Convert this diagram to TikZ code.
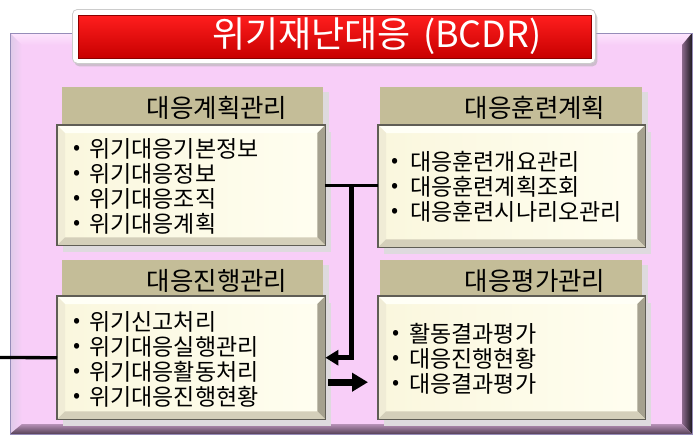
\documentclass[tikz,border=0pt]{standalone}
\usepackage{fontspec}
\setmainfont{Noto Sans CJK KR}
\usetikzlibrary{arrows.meta,calc,shadows}
\definecolor{framepink}{RGB}{248,206,248}
\definecolor{framelight}{RGB}{253,230,253}
\definecolor{frameedge}{RGB}{150,140,185}
\definecolor{framedark}{RGB}{30,25,32}
\definecolor{framemid}{RGB}{140,105,140}
\definecolor{hdrtan}{RGB}{196,189,152}
\definecolor{cream}{RGB}{250,247,222}
\definecolor{creamlight}{RGB}{255,254,240}
\definecolor{bvtopc}{RGB}{255,255,246}
\definecolor{bvleftc}{RGB}{240,236,214}
\definecolor{bvrightc}{RGB}{165,161,143}
\definecolor{bvbotc}{RGB}{212,207,186}
\definecolor{boxedge}{RGB}{95,93,85}
\definecolor{shadowgrey}{RGB}{222,218,222}
\definecolor{redtop}{RGB}{255,30,30}
\definecolor{redbot}{RGB}{200,0,0}
\newcommand{\bevelit}[1]{%
  \shade[left color=cream, right color=creamlight] ([shift={(8,8)}]#1.north west) rectangle ([shift={(-8,-8)}]#1.south east);
  \fill[bvtopc] (#1.north west) -- (#1.north east) -- ([shift={(-8,8)}]#1.north east) -- ([shift={(8,8)}]#1.north west) -- cycle;
  \fill[bvleftc] (#1.north west) -- ([shift={(8,8)}]#1.north west) -- ([shift={(8,-8)}]#1.south west) -- (#1.south west) -- cycle;
  \fill[bvrightc] (#1.north east) -- ([shift={(-8,8)}]#1.north east) -- ([shift={(-8,-8)}]#1.south east) -- (#1.south east) -- cycle;
  \fill[bvbotc] (#1.south west) -- ([shift={(8,-8)}]#1.south west) -- ([shift={(-8,-8)}]#1.south east) -- (#1.south east) -- cycle;
  \draw[boxedge, line width=1.2pt] (#1.north west) rectangle (#1.south east);
}
\begin{document}
\begin{tikzpicture}[x=1pt,y=-1pt,
  boxnode/.style={rectangle, fill=cream, draw=none, inner sep=0pt, anchor=north west,
    drop shadow={shadow xshift=6pt, shadow yshift=-7pt, fill=shadowgrey, opacity=1}},
  hdrnode/.style={rectangle, fill=hdrtan, draw=none, inner sep=0pt, anchor=north west,
    drop shadow={shadow xshift=6pt, shadow yshift=-5pt, fill=shadowgrey, opacity=1}},
  hdrtext/.style={inner sep=0pt, anchor=center, font=\fontsize{25.5}{28}\selectfont},
  itm/.style={inner sep=0pt, anchor=west, font=\fontsize{23}{26}\selectfont},
  bul/.style={inner sep=0pt, anchor=center, font=\fontsize{21}{21}\selectfont},
  thinconn/.style={line width=3.3pt, black},
  vconn/.style={line width=5pt, black, -{Triangle[length=13pt,width=15pt]}},
  fatarrow/.style={line width=7pt, black, -{Triangle[length=16pt,width=18pt]}},
]
\useasboundingbox (0,0) rectangle (700,437);
\fill[white] (0,0) rectangle (700,437);

% outer frame
\fill[framepink] (10,33) rectangle (692,434);
\shade[top color=framelight, bottom color=framepink] (10,33) -- (692,33) -- (682,45) -- (22,45) -- cycle;
\shade[left color=framelight!70!frameedge, right color=framepink] (10,33) -- (22,45) -- (22,424) -- (10,434) -- cycle;
\shade[left color=framemid, right color=framedark] (692,33) -- (692,434) -- (682,424) -- (682,45) -- cycle;
\shade[top color=framemid!60!framepink, bottom color=framedark!50!framemid] (10,434) -- (22,424) -- (682,424) -- (692,434) -- cycle;
\draw[frameedge, line width=0.8pt] (10,33) rectangle (692,434);

% title
\node[rectangle, rounded corners=5pt, fill=white, draw=black!20, line width=0.8pt, inner sep=0pt,
  minimum width=523pt, minimum height=54pt, anchor=north west,
  drop shadow={shadow xshift=2pt, shadow yshift=-3pt, fill=black!30, opacity=0.6}] (titleframe) at (72,9) {};
\shade[top color=redtop, bottom color=redbot] ([shift={(6,6)}]titleframe.north west) rectangle ([shift={(-5,-6)}]titleframe.south east);
\draw[redbot!70!black, line width=0.6pt] ([shift={(6,6)}]titleframe.north west) rectangle ([shift={(-5,-6)}]titleframe.south east);
\node[inner sep=0pt, text=white, font=\fontsize{36}{40}\selectfont] (titletext) at (377,36) {위기재난대응 \hspace{4pt}(BCDR)};

% headers
\node[hdrnode, minimum width=261pt, minimum height=40pt] (H1) at (62,87) {};
\node[hdrnode, minimum width=262pt, minimum height=40pt] (H2) at (380,87) {};
\node[hdrnode, minimum width=261pt, minimum height=38pt] (H3) at (62,260) {};
\node[hdrnode, minimum width=262pt, minimum height=38pt] (H4) at (380,260) {};

% boxes
\node[boxnode, minimum width=268pt, minimum height=120pt] (B1) at (57,125) {};
\bevelit{B1}
\node[boxnode, minimum width=267pt, minimum height=122pt] (B2) at (378,125) {};
\bevelit{B2}
\node[boxnode, minimum width=268pt, minimum height=123pt] (B3) at (57,296) {};
\bevelit{B3}
\node[boxnode, minimum width=267pt, minimum height=123pt] (B4) at (378,296) {};
\bevelit{B4}

% header texts
\node[hdrtext] (H1t) at (217,108) {대응계획관리};
\node[hdrtext] (H2t) at (535,108) {대응훈련계획};
\node[hdrtext] (H3t) at (217,281) {대응진행관리};
\node[hdrtext] (H4t) at (535,281) {대응평가관리};

% box 1 items
\node[bul] (b1u1) at (77,150) {•}; \node[itm] (b1t1) at (89,149) {위기대응기본정보};
\node[bul] (b1u2) at (77,175) {•}; \node[itm] (b1t2) at (89,174) {위기대응정보};
\node[bul] (b1u3) at (77,200) {•}; \node[itm] (b1t3) at (89,199) {위기대응조직};
\node[bul] (b1u4) at (77,225) {•}; \node[itm] (b1t4) at (89,224) {위기대응계획};
% box 2 items
\node[bul] (b2u1) at (395,163) {•}; \node[itm] (b2t1) at (410,162) {대응훈련개요관리};
\node[bul] (b2u2) at (395,188) {•}; \node[itm] (b2t2) at (410,187) {대응훈련계획조회};
\node[bul] (b2u3) at (395,213) {•}; \node[itm] (b2t3) at (410,212) {대응훈련시나리오관리};
% box 3 items
\node[bul] (b3u1) at (77,323) {•}; \node[itm] (b3t1) at (89,322) {위기신고처리};
\node[bul] (b3u2) at (77,348) {•}; \node[itm] (b3t2) at (89,347) {위기대응실행관리};
\node[bul] (b3u3) at (77,373) {•}; \node[itm] (b3t3) at (89,372) {위기대응활동처리};
\node[bul] (b3u4) at (77,398) {•}; \node[itm] (b3t4) at (89,397) {위기대응진행현황};
% box 4 items
\node[bul] (b4u1) at (396,335) {•}; \node[itm] (b4t1) at (409,334) {활동결과평가};
\node[bul] (b4u2) at (396,360) {•}; \node[itm] (b4t2) at (409,359) {대응진행현황};
\node[bul] (b4u3) at (396,385) {•}; \node[itm] (b4t3) at (409,384) {대응결과평가};

% connectors
\draw[thinconn] (B1.east) -- (B1.east -| B2.west);
\coordinate (J) at ($(B1.east)!0.5!(B1.east -| B2.west)$);
\draw[vconn] (J) |- (B3.east);
\draw[fatarrow] ($(B3.east)+(3,24.5)$) -- ($(B4.west)+(-10,24.5)$);
\coordinate (L) at (0,357.5);
\draw[thinconn] (L) -- (B3.west);
\end{tikzpicture}
\end{document}
